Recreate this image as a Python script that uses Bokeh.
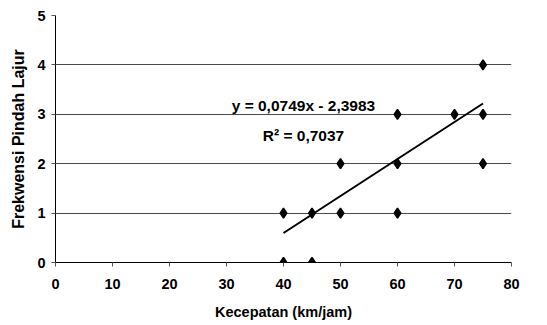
from bokeh.plotting import figure
from bokeh.models import Range1d, FixedTicker, Label
from bokeh.embed import file_html
from bokeh.resources import INLINE

# data
kecepatan = [40, 45, 40, 45, 50, 60, 50, 60, 75, 60, 70, 75, 75]
frekwensi = [0, 0, 1, 1, 1, 1, 2, 2, 2, 3, 3, 3, 4]
slope = 0.0749
intercept = -2.3983
r_squared = 0.7037
x_ticks = [0, 10, 20, 30, 40, 50, 60, 70, 80]
y_ticks = [0, 1, 2, 3, 4, 5]

FONT = "Liberation Sans"

p = figure(width=547, height=325, output_backend="svg", toolbar_location=None,
           x_range=Range1d(0, 80), y_range=Range1d(0, 5),
           min_border_left=55, min_border_right=36, min_border_top=15, min_border_bottom=63)
p.outline_line_color = None
p.background_fill_color = "white"
p.border_fill_color = "white"

p.xgrid.grid_line_color = None
p.ygrid.grid_line_color = "#4a4a4a"
p.ygrid.grid_line_width = 1

for ax in (p.xaxis[0], p.yaxis[0]):
    ax.axis_line_color = "black"
    ax.axis_line_width = 1
    ax.major_tick_in = 0
    ax.major_tick_out = 4
    ax.major_tick_line_color = "#555555"
    ax.minor_tick_line_color = None
    ax.major_label_text_font = FONT
    ax.major_label_text_font_style = "bold"
    ax.major_label_text_font_size = "14.5px"
    ax.major_label_text_color = "black"
    ax.axis_label_text_font = FONT
    ax.axis_label_text_font_style = "bold"
    ax.axis_label_text_color = "black"

p.xaxis.axis_label_text_font_size = "14.5px"
p.yaxis.axis_label_text_font_size = "16px"
p.xaxis.ticker = FixedTicker(ticks=x_ticks)
p.yaxis.ticker = FixedTicker(ticks=y_ticks)
p.xaxis.axis_label = "Kecepatan (km/jam)"
p.yaxis.axis_label = "Frekwensi Pindah Lajur"
p.xaxis.major_label_standoff = 12
p.xaxis.axis_label_standoff = 12
p.yaxis.major_label_standoff = 6
p.yaxis.axis_label_standoff = 7

# trendline
x0, x1 = min(kecepatan), max(kecepatan)
p.line([x0, x1], [slope * x0 + intercept, slope * x1 + intercept], line_color="black", line_width=2)

p.scatter(kecepatan, frekwensi, marker="diamond", size=10, fill_color="black", line_color="black",
          line_width=1.5)

eq = "y = %s%s - %s" % (("%.4f" % slope).replace(".", ","), "x", ("%.4f" % abs(intercept)).replace(".", ","))
r2 = "R² = %s" % ("%.4f" % r_squared).replace(".", ",")
for txt, yy in ((eq, 3.18), (r2, 2.57)):
    p.add_layout(Label(x=43.5, y=yy, text=txt, text_align="center", text_baseline="middle",
                       text_font=FONT, text_font_style="bold", text_font_size="15.5px", text_color="black"))

open("out.html", "w").write(file_html(p, INLINE))
